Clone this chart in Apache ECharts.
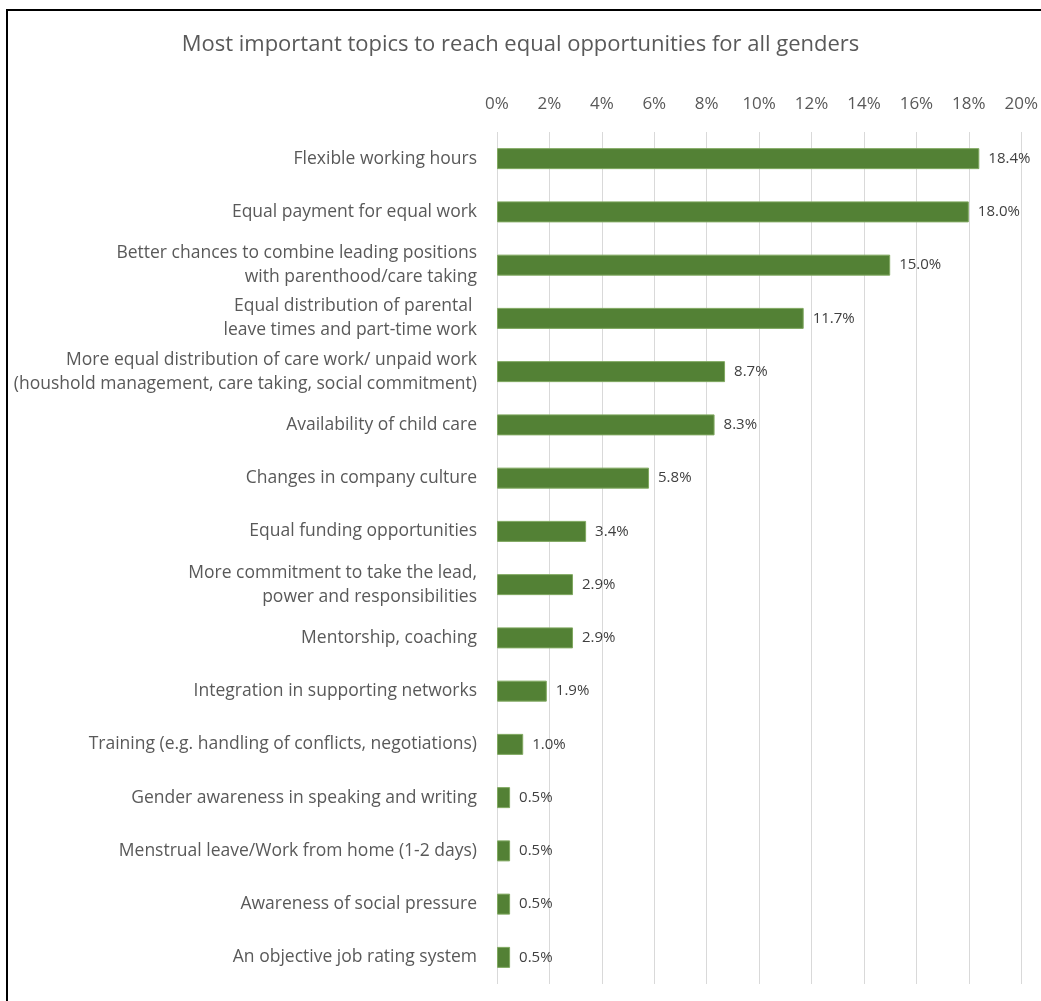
<!DOCTYPE html>
<html>
<head>
<meta charset="utf-8">
<script src="https://cdn.jsdelivr.net/npm/echarts@6/dist/echarts.min.js"></script>
<style>
html, body { margin: 0; padding: 0; background: #fff; }
#chart { width: 1041px; height: 1001px; }
</style>
</head>
<body>
<div id="chart"></div>
<script>
var topics = [
    'Flexible working hours',
    'Equal payment for equal work',
    'Better chances to combine leading positions\nwith parenthood/care taking',
    'Equal distribution of parental \nleave times and part-time work',
    'More equal distribution of care work/ unpaid work\n(houshold management, care taking, social commitment)',
    'Availability of child care',
    'Changes in company culture',
    'Equal funding opportunities',
    'More commitment to take the lead,\npower and responsibilities',
    'Mentorship, coaching',
    'Integration in supporting networks',
    'Training (e.g. handling of conflicts, negotiations)',
    'Gender awareness in speaking and writing',
    'Menstrual leave/Work from home (1-2 days)',
    'Awareness of social pressure',
    'An objective job rating system'
];
var shares = [18.4, 18.0, 15.0, 11.7, 8.7, 8.3, 5.8, 3.4, 2.9, 2.9, 1.9, 1.0, 0.5, 0.5, 0.5, 0.5];

var myChart = echarts.init(document.getElementById('chart'));
var font = 'Open Sans';

option = {
    animation: false,
    title: {
        text: 'Most important topics to reach equal opportunities for all genders',
        left: 'center',
        top: 29,
        textStyle: {
            fontFamily: font,
            fontSize: 22,
            fontWeight: 'normal',
            color: '#595959'
        }
    },
    graphic: [{
        type: 'rect',
        shape: { x: 7, y: 10, width: 1100, height: 1100 },
        style: { fill: 'none', stroke: '#000', lineWidth: 2 }
    }],
    grid: {
        left: 497,
        right: 19,
        top: 132,
        bottom: 17,
        containLabel: false
    },
    xAxis: {
        type: 'value',
        position: 'top',
        min: 0,
        max: 20,
        interval: 2,
        axisLine: { show: false },
        axisTick: { show: false },
        axisLabel: {
            margin: 19,
            fontFamily: font,
            fontSize: 17,
            color: '#595959',
            formatter: '{value}%'
        },
        splitLine: {
            lineStyle: { color: '#d9d9d9', width: 1 }
        }
    },
    yAxis: {
        type: 'category',
        inverse: true,
        data: topics,
        axisLine: { show: false },
        axisTick: { show: false },
        axisLabel: {
            margin: 20,
            fontFamily: font,
            fontSize: 17.5,
            lineHeight: 24,
            color: '#595959'
        }
    },
    series: [{
        type: 'bar',
        data: shares,
        barWidth: 21,
        itemStyle: {
            color: '#538135',
            borderColor: '#80a860',
            borderWidth: 1
        },
        label: {
            show: true,
            position: 'right',
            distance: 9,
            fontFamily: font,
            fontSize: 15,
            color: '#404040',
            formatter: function (p) {
                return p.value.toFixed(1) + '%';
            }
        }
    }]
};

myChart.setOption(option);
</script>
</body>
</html>
